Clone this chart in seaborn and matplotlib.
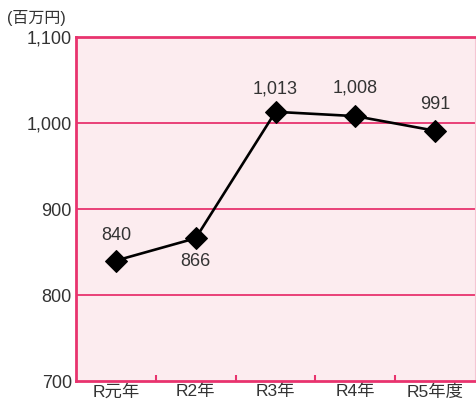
import matplotlib
matplotlib.use("Agg")
import matplotlib.pyplot as plt
import seaborn as sns
import pandas as pd
from matplotlib.ticker import FixedLocator

categories = ["R元年", "R2年", "R3年", "R4年", "R5年度"]
values = [840, 866, 1013, 1008, 991]
labels = ["840", "866", "1,013", "1,008", "991"]
label_offsets = [25, -23, 23, 28, 26]  # pixels above (+) / below (-) the marker
yticks = [700, 800, 900, 1000, 1100]
ytick_labels = ["700", "800", "900", "1,000", "1,100"]

sns.set_theme(style="white")
fam = ['Liberation Sans', 'Noto Sans CJK JP', 'DejaVu Sans']
plt.rcParams['font.family'] = fam

pink = "#e8336e"
bg = "#fcecef"
txt = "#333333"

df = pd.DataFrame({"x": range(len(categories)), "v": values})

fig = plt.figure(figsize=(4.76, 4.05), dpi=100)
ax = fig.add_axes([76/476, 24/405, 399/476, 344/405])
ax.set_facecolor(bg)

for y in [800, 900, 1000]:
    ax.axhline(y, color=pink, lw=1.3, zorder=1)

sns.lineplot(data=df, x="x", y="v", ax=ax, color="black", lw=1.9,
             marker="D", markersize=11.5, markeredgecolor="black", zorder=3)

for i, (v, lab, off) in enumerate(zip(values, labels, label_offsets)):
    ax.annotate(lab, (i, v), xytext=(0, off), textcoords="offset pixels",
                ha="center", va="center", fontsize=13, color=txt)

ax.set_xlim(-0.5, 4.5)
ax.set_ylim(700, 1100)
ax.set_xticks(range(len(categories)))
ax.set_xticklabels(categories, fontsize=12.5, color=txt)
ax.xaxis.set_minor_locator(FixedLocator([0.5, 1.5, 2.5, 3.5]))
ax.tick_params(axis="x", which="major", length=0, pad=2)
ax.tick_params(axis="x", which="minor", direction="in", length=4, color=pink, width=1.5, bottom=True)
ax.set_yticks(yticks)
ax.set_yticklabels(ytick_labels, fontsize=13, color=txt)
ax.tick_params(axis="y", length=0, pad=3)
ax.set_xlabel("")
ax.set_ylabel("")

for s in ["left", "bottom", "top"]:
    ax.spines[s].set_color(pink)
    ax.spines[s].set_linewidth(2)
ax.spines["right"].set_color("#f5c6d3")
ax.spines["right"].set_linewidth(0.8)

fig.text(7/476, 1 - 18/405, "(百万円)", fontsize=11.5, color=txt, ha="left", va="center")

fig.savefig("out.png", dpi=100)
